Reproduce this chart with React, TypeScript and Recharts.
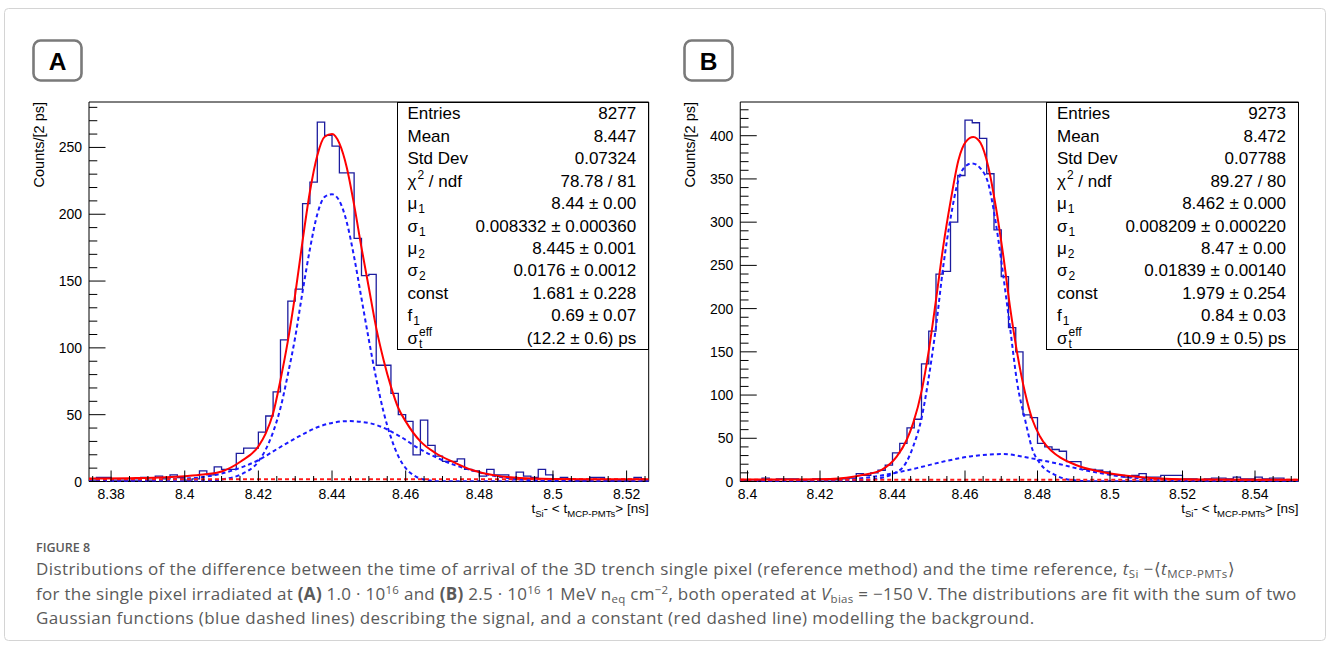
import React from 'react';
import { ComposedChart, Line, XAxis, YAxis, ReferenceArea } from 'recharts';

// ---------------- data ----------------
const binWidth = 0.002;
const binStartA = 8.374;
const binStartB = 8.398;

const countsA = [
  1, 3, 3, 1, 1, 1, 1, 3, 1, 4,
  2, 5, 3, 1, 2, 8, 5, 11, 9, 9,
  21, 25, 25, 37, 49, 67, 106, 135, 144, 208,
  224, 269, 259, 251, 231, 231, 182, 154, 155, 87,
  87, 66, 50, 45, 20, 46, 27, 19, 15, 15,
  17, 9, 8, 4, 9, 5, 5, 2, 7, 4,
  3, 9, 5, 2, 3, 2, 1, 1, 3, 3,
  1, 1, 1, 1, 3, 1,
];

const countsB = [
  1, 2, 1, 4, 2, 3, 3, 3, 2, 2,
  3, 2, 2, 2, 3, 4, 9, 7, 10, 13,
  19, 33, 44, 62, 72, 136, 174, 240, 243, 300,
  354, 418, 415, 397, 356, 291, 237, 178, 150, 77,
  74, 44, 40, 37, 35, 23, 23, 14, 14, 13,
  11, 8, 7, 5, 7, 9, 5, 5, 7, 7,
  7, 3, 3, 2, 3, 4, 4, 3, 5, 3,
  3, 5, 3, 4, 4, 2,
];

// fit curves: [x, counts]
const fitTotalA: [number, number][] = [
  [8.374, 2.2], [8.385, 2.5], [8.395, 3.2], [8.4, 4], [8.405, 5.2], [8.41, 7.5], [8.4152, 15],
  [8.42, 26.3], [8.422, 36], [8.424, 51], [8.426, 76], [8.428, 105], [8.43, 140], [8.432, 180],
  [8.434, 217], [8.436, 244], [8.438, 258], [8.44, 260], [8.442, 253], [8.444, 235], [8.446, 207],
  [8.448, 175], [8.45, 145], [8.452, 115], [8.454, 91], [8.456, 71], [8.458, 55], [8.46, 45],
  [8.464, 30], [8.468, 21.5], [8.473, 14.5], [8.478, 8.6], [8.484, 4.7], [8.491, 2.6], [8.5, 1.9],
  [8.51, 1.7], [8.526, 1.7],
];
const gaus1A: [number, number][] = [
  [8.374, 0], [8.405, 0.2], [8.41, 1.5], [8.415, 5], [8.42, 15], [8.422, 24], [8.424, 37],
  [8.426, 55], [8.428, 80], [8.43, 108], [8.432, 142], [8.434, 174], [8.436, 200], [8.438, 213],
  [8.44, 215], [8.442, 210], [8.444, 194], [8.446, 168], [8.448, 137], [8.45, 106], [8.452, 77],
  [8.454, 52], [8.456, 33], [8.458, 19], [8.46, 10], [8.462, 5], [8.465, 1.5], [8.47, 0.2], [8.526, 0],
];
const gaus2A: [number, number][] = [
  [8.374, 0.3], [8.39, 1], [8.4, 2.2], [8.4055, 3.5], [8.4138, 9], [8.42, 16], [8.4255, 25],
  [8.431, 33.7], [8.4364, 41], [8.4446, 45.2], [8.4503, 43.6], [8.4585, 33.7], [8.4637, 24.5],
  [8.468, 18.4], [8.473, 12.6], [8.478, 8.4], [8.484, 4.2], [8.491, 1.6], [8.5, 0.5], [8.526, 0],
];
const constA: [number, number][] = [[8.374, 1.7], [8.526, 1.7]];

const fitTotalB: [number, number][] = [
  [8.398, 2.2], [8.41, 2.3], [8.4228, 2.8], [8.432, 7.7], [8.437, 13.5], [8.4412, 29], [8.4439, 48],
  [8.4457, 67.5], [8.4481, 106], [8.4499, 148.5], [8.452, 210], [8.454, 272], [8.4561, 326],
  [8.4582, 372], [8.4602, 393], [8.4623, 398.5], [8.4643, 391.5], [8.4664, 364.5], [8.4685, 318],
  [8.4706, 260], [8.4724, 202.5], [8.4744, 148.5], [8.4766, 102], [8.4786, 71.4], [8.4807, 52],
  [8.4848, 32], [8.4862, 28], [8.489, 22], [8.4917, 17.4], [8.4972, 11.6], [8.5046, 6.6],
  [8.5138, 3.5], [8.5276, 2.2], [8.552, 2],
];
const gaus1B: [number, number][] = [
  [8.398, 0], [8.425, 0.3], [8.4338, 2], [8.4421, 13.5], [8.4457, 40.5], [8.4481, 75], [8.4499, 117.7],
  [8.452, 179], [8.454, 248.8], [8.4561, 306.6], [8.4582, 349], [8.4602, 365], [8.462, 368],
  [8.4643, 362], [8.4664, 345], [8.4685, 299], [8.4706, 237], [8.4724, 179], [8.4744, 114],
  [8.4766, 71], [8.4786, 37], [8.4807, 21], [8.4848, 7.7], [8.489, 2], [8.495, 0.3], [8.552, 0],
];
const gaus2B: [number, number][] = [
  [8.398, 0.3], [8.4136, 0.8], [8.4228, 1.8], [8.432, 4], [8.4412, 10.4], [8.4467, 15.5], [8.454, 23],
  [8.4614, 29], [8.4706, 31.7], [8.478, 27], [8.4835, 22.5], [8.4862, 20], [8.4917, 14.3],
  [8.4972, 9.7], [8.5046, 5], [8.5138, 2], [8.523, 0.8], [8.552, 0],
];
const constB: [number, number][] = [[8.398, 2], [8.552, 2]];

const xDomainA: [number, number] = [8.374, 8.526];
const xDomainB: [number, number] = [8.398, 8.552];
const yMaxA = 284;
const yMaxB = 439;

const xMajorA = [8.38, 8.4, 8.42, 8.44, 8.46, 8.48, 8.5, 8.52];
const xMajorB = [8.4, 8.42, 8.44, 8.46, 8.48, 8.5, 8.52, 8.54];
const yMajorA = [0, 50, 100, 150, 200, 250];
const yMajorB = [0, 50, 100, 150, 200, 250, 300, 350, 400];

const statLabels: string[][] = [
  ['Entries'], ['Mean'], ['Std Dev'], ['χ', '', '2', ' / ndf'], ['μ', '1'], ['σ', '1'],
  ['μ', '2'], ['σ', '2'], ['const'], ['f', '1'], ['σ', 't', 'eff'],
];
const statsA = ['8277', '8.447', '0.07324', '78.78 / 81', '8.44 ± 0.00', '0.008332 ± 0.000360',
  '8.445 ± 0.001', '0.0176 ± 0.0012', '1.681 ± 0.228', '0.69 ± 0.07', '(12.2 ± 0.6) ps'];
const statsB = ['9273', '8.472', '0.07788', '89.27 / 80', '8.462 ± 0.000', '0.008209 ± 0.000220',
  '8.47 ± 0.00', '0.01839 ± 0.00140', '1.979 ± 0.254', '0.84 ± 0.03', '(10.9 ± 0.5) ps'];

// ---------------- helpers ----------------
const ROOT_FONT = '"Liberation Sans", Arial, Helvetica, sans-serif';
const PLOT_TOP = 102;
const PLOT_BOTTOM = 481.5;
const CHART_W = 700;
const CHART_H = 530;
const YAXIS_W = 50;
const XAXIS_H = 30;

const toPts = (arr: [number, number][]) => arr.map(([x, y]) => ({ x, y }));
const histPoints = (start: number, counts: number[]) => {
  const pts = counts.map((c, i) => ({ x: Math.round((start + i * binWidth) * 10000) / 10000, y: c }));
  pts.push({ x: Math.round((start + counts.length * binWidth) * 10000) / 10000, y: counts[counts.length - 1] });
  return pts;
};
const tickRange = (from: number, to: number, step: number) => {
  const out: number[] = [];
  const n = Math.round((to - from) / step);
  for (let i = 0; i <= n; i++) out.push(Math.round((from + i * step) * 10000) / 10000);
  return out;
};
const isIn = (v: number, arr: number[]) => arr.some((m) => Math.abs(m - v) < 1e-7);

const XTick = (props: any) => {
  const { x, y, payload, majors } = props;
  const major = isIn(payload.value, majors);
  return (
    <g>
      <line x1={x} x2={x} y1={y} y2={y - (major ? 11 : 5.5)} stroke="#000" strokeWidth={1} />
      {major && (
        <text x={x} y={y + 12} textAnchor="middle" dominantBaseline="central" fontSize={14}
          fontFamily={ROOT_FONT} fill="#000">{String(payload.value)}</text>
      )}
    </g>
  );
};
const YTick = (props: any) => {
  const { x, y, payload, majors } = props;
  const major = isIn(payload.value, majors);
  return (
    <g>
      <line x1={x} x2={x + (major ? 16.5 : 8.3)} y1={y} y2={y} stroke="#000" strokeWidth={1} />
      {major && (
        <text x={x - 7} y={y} textAnchor="end" dominantBaseline="central" fontSize={14}
          fontFamily={ROOT_FONT} fill="#000">{String(payload.value)}</text>
      )}
    </g>
  );
};

type PanelProps = {
  offsetX: number; plotLeft: number; plotRight: number;
  xDomain: [number, number]; yMax: number;
  xTicks: number[]; xMajors: number[]; yTicks: number[]; yMajors: number[];
  hist: { x: number; y: number }[];
  total: [number, number][]; g1: [number, number][]; g2: [number, number][]; bkg: [number, number][];
};

function Panel(p: PanelProps) {
  const margin = {
    top: PLOT_TOP,
    bottom: CHART_H - PLOT_BOTTOM - XAXIS_H,
    left: p.plotLeft - p.offsetX - YAXIS_W,
    right: p.offsetX + CHART_W - p.plotRight,
  };
  return (
    <div style={{ position: 'absolute', left: p.offsetX, top: 0 }}>
      <ComposedChart width={CHART_W} height={CHART_H} margin={margin}>
        <XAxis type="number" dataKey="x" domain={p.xDomain} allowDataOverflow ticks={p.xTicks}
          interval={0} tickSize={0} tickMargin={0} axisLine={false} tickLine={false} height={XAXIS_H}
          tick={(tp: any) => <XTick {...tp} majors={p.xMajors} />} />
        <YAxis type="number" domain={[0, p.yMax]} allowDataOverflow ticks={p.yTicks}
          interval={0} tickSize={0} tickMargin={0} axisLine={false} tickLine={false} width={YAXIS_W}
          tick={(tp: any) => <YTick {...tp} majors={p.yMajors} />} />
        <Line data={p.hist} dataKey="y" type="stepAfter" stroke="#1c1c9e" strokeWidth={1.3}
          dot={false} activeDot={false} isAnimationActive={false} />
        <Line data={toPts(p.g2)} dataKey="y" type="monotone" stroke="#1a1aff" strokeWidth={2}
          strokeDasharray="4 3" dot={false} activeDot={false} isAnimationActive={false} />
        <Line data={toPts(p.g1)} dataKey="y" type="monotone" stroke="#1a1aff" strokeWidth={2}
          strokeDasharray="4 3" dot={false} activeDot={false} isAnimationActive={false} />
        <Line data={toPts(p.bkg)} dataKey="y" type="linear" stroke="#ff1a1a" strokeWidth={2}
          strokeDasharray="4 3" dot={false} activeDot={false} isAnimationActive={false} />
        <Line data={toPts(p.total)} dataKey="y" type="monotone" stroke="#ff0000" strokeWidth={2}
          dot={false} activeDot={false} isAnimationActive={false} />
        <ReferenceArea x1={p.xDomain[0]} x2={p.xDomain[1]} y1={0} y2={p.yMax} fill="none"
          fillOpacity={0} stroke="#000" strokeWidth={1} ifOverflow="visible" />
      </ComposedChart>
    </div>
  );
}

function StatLabel({ parts }: { parts: string[] }) {
  const [base, sub, sup, rest] = parts;
  if (!sub && !sup) return <span>{base}</span>;
  const longest = (sup || '').length >= (sub || '').length ? sup : sub;
  return (
    <span>
      {base}
      <span style={{ position: 'relative', display: 'inline-block', fontSize: 12, lineHeight: '12px', marginLeft: 1 }}>
        <span style={{ visibility: 'hidden' }}>{longest}</span>
        {sup ? <span style={{ position: 'absolute', left: 0, top: -8 }}>{sup}</span> : null}
        {sub ? <span style={{ position: 'absolute', left: 0, top: 4 }}>{sub}</span> : null}
      </span>
      {rest || ''}
    </span>
  );
}

function StatsBox({ left, right, bottom, values }: { left: number; right: number; bottom: number; values: string[] }) {
  return (
    <>
      <div style={{
        position: 'absolute', left: left, top: PLOT_TOP, width: right - left, height: bottom - PLOT_TOP,
        border: '1px solid #000', background: '#fff', boxSizing: 'border-box',
      }} />
      {values.map((v, i) => {
        const cy = 114.3 + 22.45 * i;
        return (
          <div key={i} style={{
            position: 'absolute', left: left + 11, width: right - left - 23.5, top: cy - 10, height: 20,
            lineHeight: '20px', fontSize: 17, fontFamily: ROOT_FONT, color: '#000',
            display: 'flex', justifyContent: 'space-between', whiteSpace: 'nowrap',
          }}>
            <StatLabel parts={statLabels[i]} />
            <span>{v}</span>
          </div>
        );
      })}
    </>
  );
}

const subStyle: React.CSSProperties = { fontSize: 11.5, verticalAlign: '-3px', lineHeight: 0 };
const supStyle: React.CSSProperties = { fontSize: 11.5, verticalAlign: '6px', lineHeight: 0 };

export default function App() {
  const histA = histPoints(binStartA, countsA);
  const histB = histPoints(binStartB, countsB);
  const xTicksA = tickRange(8.375, 8.525, 0.005);
  const xTicksB = tickRange(8.4, 8.55, 0.005);
  const yTicksA = tickRange(0, 280, 10);
  const yTicksB = tickRange(0, 430, 10);

  const capLine: React.CSSProperties = {
    position: 'absolute', left: 36, height: 24, lineHeight: '24px', whiteSpace: 'nowrap',
    fontFamily: '"Open Sans", "Noto Sans", sans-serif', fontSize: 17, letterSpacing: '0.4px', color: '#5a5a5a',
  };

  return (
    <div style={{ position: 'absolute', left: 0, top: 0, width: 1330, height: 648, background: '#fff', overflow: 'hidden' }}>
      <svg width={1330} height={648} style={{ position: 'absolute', left: 0, top: 0 }}>
        <rect x={4.5} y={8.5} width={1321} height={632} rx={4} fill="#fff" stroke="#d4d4d4" strokeWidth={1} />
      </svg>

      <Panel offsetX={0} plotLeft={89} plotRight={648.7} xDomain={xDomainA} yMax={yMaxA}
        xTicks={xTicksA} xMajors={xMajorA} yTicks={yTicksA} yMajors={yMajorA}
        hist={histA} total={fitTotalA} g1={gaus1A} g2={gaus2A} bkg={constA} />
      <Panel offsetX={651} plotLeft={740.25} plotRight={1298.5} xDomain={xDomainB} yMax={yMaxB}
        xTicks={xTicksB} xMajors={xMajorB} yTicks={yTicksB} yMajors={yMajorB}
        hist={histB} total={fitTotalB} g1={gaus1B} g2={gaus2B} bkg={constB} />

      <StatsBox left={396.5} right={648.7} bottom={349.5} values={statsA} />
      <StatsBox left={1046} right={1298.5} bottom={349.5} values={statsB} />

      <svg width={1330} height={648} style={{ position: 'absolute', left: 0, top: 0, pointerEvents: 'none' }}>
        {/* panel labels */}
        <rect x={33.5} y={40.5} width={48} height={40} rx={7} fill="#fff" stroke="#7a7a7a" strokeWidth={2.6} />
        <text x={57.5} y={61.5} textAnchor="middle" dominantBaseline="central" fontSize={24.5} fontWeight="bold" fontFamily={ROOT_FONT}>A</text>
        <rect x={684.5} y={40.5} width={48} height={40} rx={7} fill="#fff" stroke="#7a7a7a" strokeWidth={2.6} />
        <text x={708.5} y={61.5} textAnchor="middle" dominantBaseline="central" fontSize={24.5} fontWeight="bold" fontFamily={ROOT_FONT}>B</text>

        {/* y titles */}
        <text x={39} y={102} transform="rotate(-90 39 102)" textAnchor="end" dominantBaseline="central" fontSize={14.5} fontFamily={ROOT_FONT}>Counts/[2 ps]</text>
        <text x={690} y={102} transform="rotate(-90 690 102)" textAnchor="end" dominantBaseline="central" fontSize={14.5} fontFamily={ROOT_FONT}>Counts/[2 ps]</text>

        {/* x titles */}
        {[648.7, 1298.5].map((xr, i) => (
          <text key={i} x={xr} y={513} textAnchor="end" fontSize={13.5} fontFamily={ROOT_FONT}>
            t<tspan fontSize={9.5} dy={3.5}>Si</tspan><tspan dy={-3.5}>{'- < t'}</tspan><tspan fontSize={9.5} dy={3.5}>MCP-PMTs</tspan><tspan dy={-3.5}>{'> [ns]'}</tspan>
          </text>
        ))}
      </svg>

      {/* caption */}
      <div style={{ ...capLine, top: 536, fontSize: 12.5, letterSpacing: '0px', color: '#5a5a5a', fontWeight: 600 }}>FIGURE 8</div>
      <div style={{ ...capLine, top: 557 }}>
        Distributions of the difference between the time of arrival of the 3D trench single pixel (reference method) and the time reference, <i>t</i><span style={subStyle}>Si</span> −⟨<i>t</i><span style={subStyle}>MCP-PMTs</span>⟩
      </div>
      <div style={{ ...capLine, top: 582, letterSpacing: '0.28px' }}>
        for the single pixel irradiated at <b>(A)</b> 1.0 · 10<span style={supStyle}>16</span> and <b>(B)</b> 2.5 · 10<span style={supStyle}>16</span> 1 MeV n<span style={subStyle}>eq</span> cm<span style={supStyle}>−2</span>, both operated at <i>V</i><span style={subStyle}>bias</span> = −150 V. The distributions are fit with the sum of two
      </div>
      <div style={{ ...capLine, top: 606 }}>
        Gaussian functions (blue dashed lines) describing the signal, and a constant (red dashed line) modelling the background.
      </div>
    </div>
  );
}
